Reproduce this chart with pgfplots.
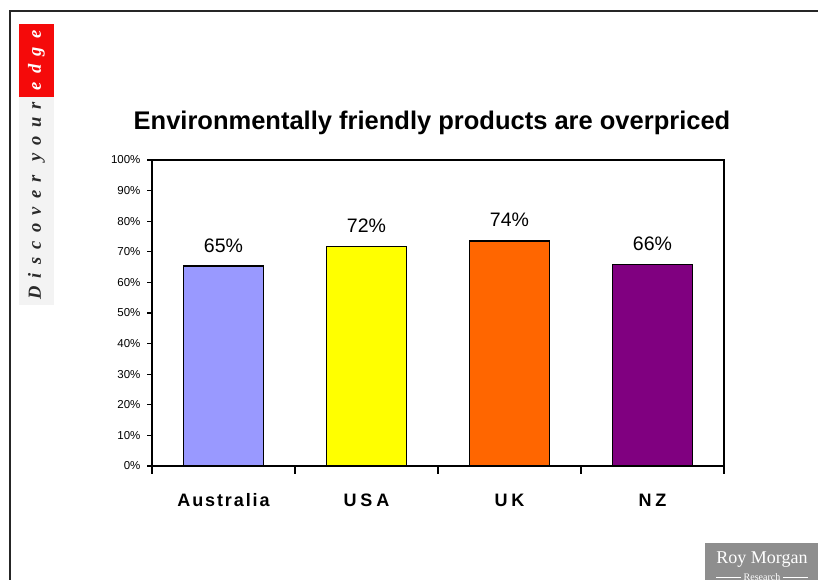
\documentclass[border=0pt]{standalone}
\usepackage{fontspec}
\setmainfont{Liberation Sans}
\newfontfamily\xlabA[LetterSpace=10.5]{Liberation Sans}
\newfontfamily\xlabB[LetterSpace=22]{Liberation Sans}
\newfontfamily\discfont[LetterSpace=45]{Liberation Serif}
\newfontfamily\logofont{Liberation Serif}
\usepackage{pgfplots}
\pgfplotsset{compat=1.18}
\definecolor{ausc}{HTML}{9999FF}
\definecolor{usac}{HTML}{FFFF00}
\definecolor{ukc}{HTML}{FF6600}
\definecolor{nzc}{HTML}{800080}
\definecolor{logogray}{HTML}{8E8E8E}
\definecolor{edgered}{HTML}{F50A0A}
\definecolor{stripgray}{HTML}{F3F3F3}
\definecolor{disctext}{HTML}{2A2A2A}
\begin{document}
\begin{tikzpicture}
\useasboundingbox (0pt,0pt) rectangle (818pt,580pt);
\fill[white] (0pt,0pt) rectangle (818pt,580pt);
\draw[line width=1.8pt, black!85] (10pt,-2pt) -- (10pt,569pt) -- (820pt,569pt);
% left decoration
\fill[edgered] (19pt,483pt) rectangle (54pt,556pt);
\fill[stripgray] (19pt,275pt) rectangle (54pt,483pt);
\node[rotate=90, text=white, inner sep=0pt] at (36.5pt,519.5pt) {\fontsize{18.5}{18}\discfont\bfseries\itshape edge};
\node[rotate=90, text=disctext, inner sep=0pt] at (36.5pt,379pt) {\fontsize{18.5}{18}\discfont\bfseries\itshape Discover your};
% logo
\fill[logogray] (705pt,-2pt) rectangle (820pt,37pt);
\node[text=white, inner sep=0pt] at (762pt,20pt) {\fontsize{18}{18}\logofont Roy Morgan};
\node[text=white, inner sep=0pt, anchor=base] at (762pt,-1pt) {\fontsize{10}{10}\logofont Research};
\draw[white, line width=0.8pt] (716pt,3pt) -- (741pt,3pt) (783pt,3pt) -- (808pt,3pt);
% title
\node[inner sep=0pt] at (432pt,457pt) {\fontsize{25.5}{26}\selectfont\bfseries Environmentally friendly products are overpriced};
\begin{axis}[
  at={(152pt,114pt)}, anchor=south west,
  scale only axis, width=572pt, height=306pt,
  xmin=-0.5, xmax=3.5, ymin=0, ymax=100,
  axis line style={line width=1.8pt, black},
  tick align=outside, tick pos=left,
  ytick={0,10,...,100},
  yticklabels={0\%,10\%,20\%,30\%,40\%,50\%,60\%,70\%,80\%,90\%,100\%},
  yticklabel style={font=\fontsize{11.5}{12}\selectfont, xshift=-3pt},
  major tick length=5pt,
  ytick style={line width=1.2pt, black},
  xtick={0,1,2,3},
  xticklabels={{\xlabA\bfseries Australia},{\xlabB\bfseries USA},{\xlabB\bfseries UK},{\xlabB\bfseries NZ}},
  xticklabel style={font=\fontsize{18}{18}\selectfont, anchor=base, yshift=-36pt},
  major x tick style={draw=none},
  minor xtick={-0.5,0.5,1.5,2.5,3.5},
  minor tick length=8pt,
  minor x tick style={draw=black, line width=1.2pt},
  point meta=explicit symbolic,
  nodes near coords,
  nodes near coords style={font=\fontsize{19.5}{20}\selectfont, anchor=base, inner sep=0pt, yshift=14pt},
  clip=false,
]
\addplot[ybar, bar shift=0pt, bar width=80pt, fill=ausc, draw=black, line width=1.5pt] coordinates {(0,65.3) [65\%]};
\addplot[ybar, bar shift=0pt, bar width=80pt, fill=usac, draw=black, line width=1.5pt] coordinates {(1,71.7) [72\%]};
\addplot[ybar, bar shift=0pt, bar width=80pt, fill=ukc, draw=black, line width=1.5pt] coordinates {(2,73.6) [74\%]};
\addplot[ybar, bar shift=0pt, bar width=80pt, fill=nzc, draw=black, line width=1.5pt] coordinates {(3,65.8) [66\%]};
\end{axis}
\end{tikzpicture}
\end{document}
